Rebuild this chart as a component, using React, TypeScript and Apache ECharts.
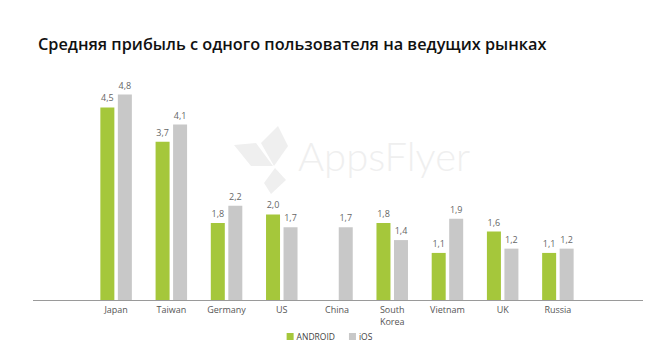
import React, { useEffect, useRef } from "react";
import * as echarts from "echarts";

const categories = ["Japan", "Taiwan", "Germany", "US", "China", "South\nKorea", "Vietnam", "UK", "Russia"];
const androidValues: (number | null)[] = [4.5, 3.7, 1.8, 2.0, null, 1.8, 1.1, 1.6, 1.1];
const iosValues: number[] = [4.8, 4.1, 2.2, 1.7, 1.7, 1.4, 1.9, 1.2, 1.2];
const seriesNames = ["ANDROID", "iOS"];
const titleText = "Средняя прибыль с одного пользователя на ведущих рынках";

const FONT = "'Open Sans', 'Noto Sans', sans-serif";

export default function App() {
  const ref = useRef<HTMLDivElement>(null);
  useEffect(() => {
    if (!ref.current) return;
    const chart = echarts.init(ref.current, null, { renderer: "svg" });
    const labelFmt = (p: any) => (p.value == null ? "" : Number(p.value).toFixed(1).replace(".", ","));
    chart.setOption({
      animation: false,
      backgroundColor: "#ffffff",
      title: {
        text: titleText,
        left: 33,
        top: 31,
        textStyle: { fontFamily: FONT, fontSize: 16.3, fontWeight: 600, color: "#111" },
      },
      legend: {
        bottom: 17,
        left: "center",
        itemWidth: 7,
        itemHeight: 7,
        itemGap: 14,
        icon: "rect",
        textStyle: { fontFamily: FONT, fontSize: 8.5, color: "#444", padding: [0, 0, 0, -2] },
        data: seriesNames,
      },
      grid: { left: 88.5, right: 73.5, top: 86, bottom: 63, containLabel: false },
      xAxis: {
        type: "category",
        data: categories,
        axisLine: { show: false },
        axisTick: { show: false },
        axisLabel: { fontFamily: FONT, fontSize: 9, color: "#555", margin: 3, lineHeight: 12.5, interval: 0 },
      },
      yAxis: {
        type: "value",
        min: 0,
        max: 5,
        show: false,
        splitLine: { show: false },
      },
      graphic: [
        {
          type: "line",
          shape: { x1: 33, y1: 300.5, x2: 643, y2: 300.5 },
          style: { stroke: "#9a9a9a", lineWidth: 1 },
          z: 10,
        },
        {
          type: "polygon",
          shape: { points: [[278, 126], [288, 146], [274, 166], [261, 143]] },
          style: { fill: "#efefef" },
          z: -1,
        },
        {
          type: "polygon",
          shape: { points: [[234, 145], [256, 143], [273, 166], [251, 166]] },
          style: { fill: "#efefef" },
          z: -1,
        },
        {
          type: "polygon",
          shape: { points: [[275, 168], [286, 180], [271, 194], [264, 183]] },
          style: { fill: "#efefef" },
          z: -1,
        },
        {
          type: "text",
          left: 298,
          top: 136,
          style: { text: "AppsFlyer", fontFamily: "Lato, 'Open Sans', sans-serif", fontWeight: 300, fontSize: 40, fill: "#efefef" },
          z: -1,
        },
      ],
      series: [
        {
          name: seriesNames[0],
          type: "bar",
          data: androidValues,
          barWidth: 14,
          barGap: "25%",
          itemStyle: { color: "#a5c73b" },
          label: { show: true, position: "top", distance: 5, fontFamily: FONT, fontSize: 9, color: "#666", formatter: labelFmt },
        },
        {
          name: seriesNames[1],
          type: "bar",
          data: iosValues,
          barWidth: 14,
          itemStyle: { color: "#c8c8c8" },
          label: { show: true, position: "top", distance: 5, fontFamily: FONT, fontSize: 9, color: "#666", formatter: labelFmt },
        },
      ],
    });
    return () => chart.dispose();
  }, []);
  return <div ref={ref} style={{ position: "fixed", left: 0, top: 0, width: 659, height: 363 }} />;
}
